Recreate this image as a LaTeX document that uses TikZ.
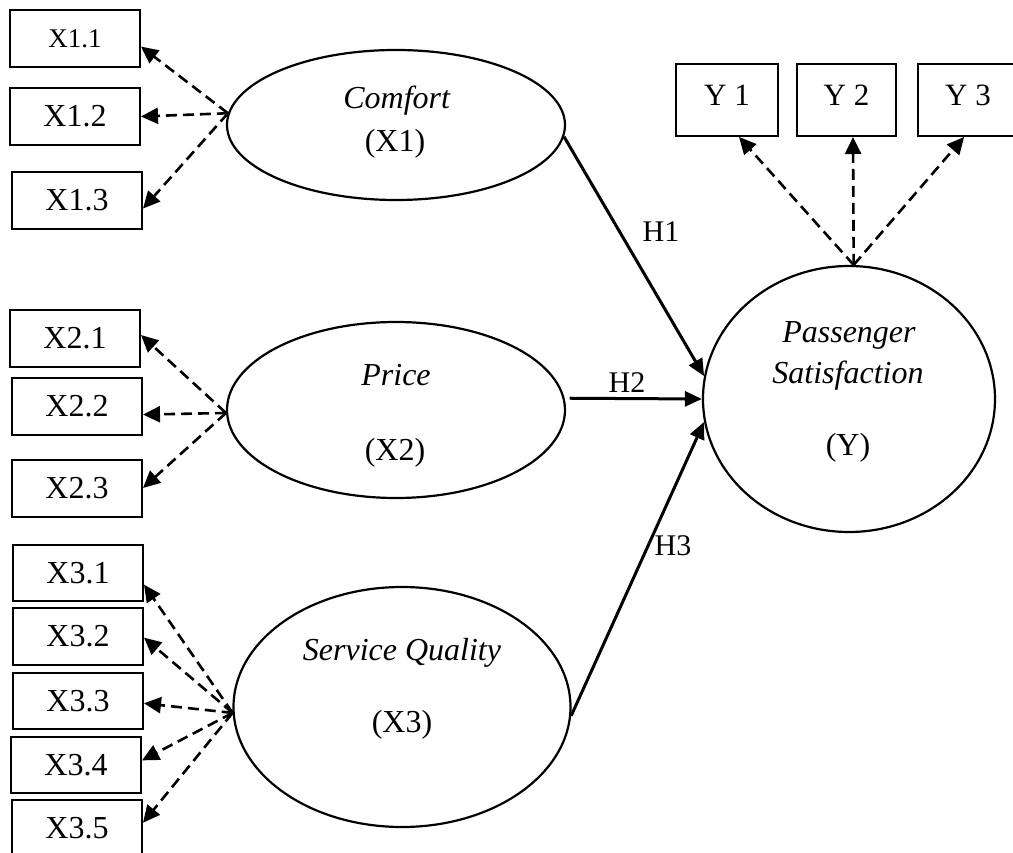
\documentclass[tikz,border=0pt]{standalone}
\usepackage{fontspec}
\setmainfont{Liberation Serif}
\usetikzlibrary{arrows.meta,shapes.geometric,calc}
\tikzset{
  ind/.style={draw=black, line width=2pt, rectangle, minimum width=130pt, minimum height=57pt, inner sep=0pt, font=\fontsize{32}{38}\selectfont},
  indy/.style={draw=black, line width=2pt, rectangle, minimum height=72pt, inner sep=0pt, text height=21pt, text depth=10pt, font=\fontsize{31}{37}\selectfont},
  lat/.style={draw=black, line width=2.2pt, ellipse, inner sep=0pt},
  lbl/.style={anchor=base, inner sep=0pt, font=\fontsize{32}{38}\selectfont},
  hl/.style={anchor=base, inner sep=0pt, font=\fontsize{30}{36}\selectfont},
  load/.style={dashed, dash pattern=on 11pt off 6pt, line width=2.6pt, -{Triangle[length=17pt,width=16pt]}},
  path/.style={line width=3pt, -{Triangle[length=17pt,width=15pt]}}
}
\begin{document}
\begin{tikzpicture}[x=1pt,y=-1pt]
\useasboundingbox (0,0) rectangle (1013,853);
% indicator boxes
\node[ind, font=\fontsize{27}{32}\selectfont] (x11) at (75,38.5) {X1.1};
\node[ind] (x12) at (75,116.5) {X1.2};
\node[ind] (x13) at (77,200.5) {X1.3};
\node[ind] (x21) at (75,338.5) {X2.1};
\node[ind] (x22) at (77,406.5) {X2.2};
\node[ind] (x23) at (77,488) {X2.3};
\node[ind, minimum height=56pt] (x31) at (78,573) {X3.1};
\node[ind] (x32) at (78,636.5) {X3.2};
\node[ind, minimum height=56pt] (x33) at (78,701) {X3.3};
\node[ind, minimum height=56pt] (x34) at (76,765) {X3.4};
\node[ind] (x35) at (77,828.5) {X3.5};
\node[indy, minimum width=102pt] (y1) at (727,100) {Y 1};
\node[indy, minimum width=99pt] (y2) at (846.5,100) {Y 2};
\node[indy, minimum width=100pt] (y3) at (968,100) {Y 3};
% latent variables
\node[lat, minimum width=338pt, minimum height=150pt] (c1) at (396,125) {};
\node[lat, minimum width=338pt, minimum height=176pt] (c2) at (396,410) {};
\node[lat, minimum width=337pt, minimum height=240pt] (c3) at (402,707) {};
\node[lat, minimum width=292pt, minimum height=266pt] (py) at (849,399) {};
% texts
\node[lbl] (t1a) at (397,109) {\textit{Comfort}};
\node[lbl] (t1b) at (395,152) {(X1)};
\node[lbl] (t2a) at (396,385) {\textit{Price}};
\node[lbl] (t2b) at (395,460) {(X2)};
\node[lbl] (t3a) at (402,660) {\textit{Service Quality}};
\node[lbl] (t3b) at (402,732) {(X3)};
\node[lbl] (tya) at (849,342) {\textit{Passenger}};
\node[lbl] (tyb) at (848,384) {\textit{Satisfaction}};
\node[lbl] (tyc) at (848,455) {(Y)};
% origins
\coordinate (o1) at (c1.176.6);
\coordinate (o2) at (c2.181);
\coordinate (o3) at (c3.182.7);
\coordinate (oy) at (py.88);
% loadings
\draw[load] (o1) -- (x11.-7.4);
\draw[load] (o1) -- (x12.east);
\draw[load] (o1) -- (x13.-7);
\draw[load] (o2) -- (x21.3);
\draw[load] (o2) -- (x22.-7);
\draw[load] (o2) -- (x23.east);
\draw[load] (o3) -- (x31.-10);
\draw[load] (o3) -- (x32.-1);
\draw[load] (o3) -- (x33.-2);
\draw[load] (o3) -- (x34.4);
\draw[load] (o3) -- (x35.5);
\draw[load] (oy) -- (y1.-72);
\draw[load] (oy) -- (y2.-80);
\draw[load] (oy) -- (y3.-96);
% structural paths
\draw[path] (c1.-4) -- (py.171.4);
\draw[path, shorten <=5pt] (c2.4) -- (py.180);
\draw[path] (c3.-3.7) -- (py.189);
\node[hl] (h1) at (661,242) {H1};
\node[hl] (h2) at (627,392) {H2};
\node[hl] (h3) at (673,555) {H3};
\end{tikzpicture}
\end{document}
